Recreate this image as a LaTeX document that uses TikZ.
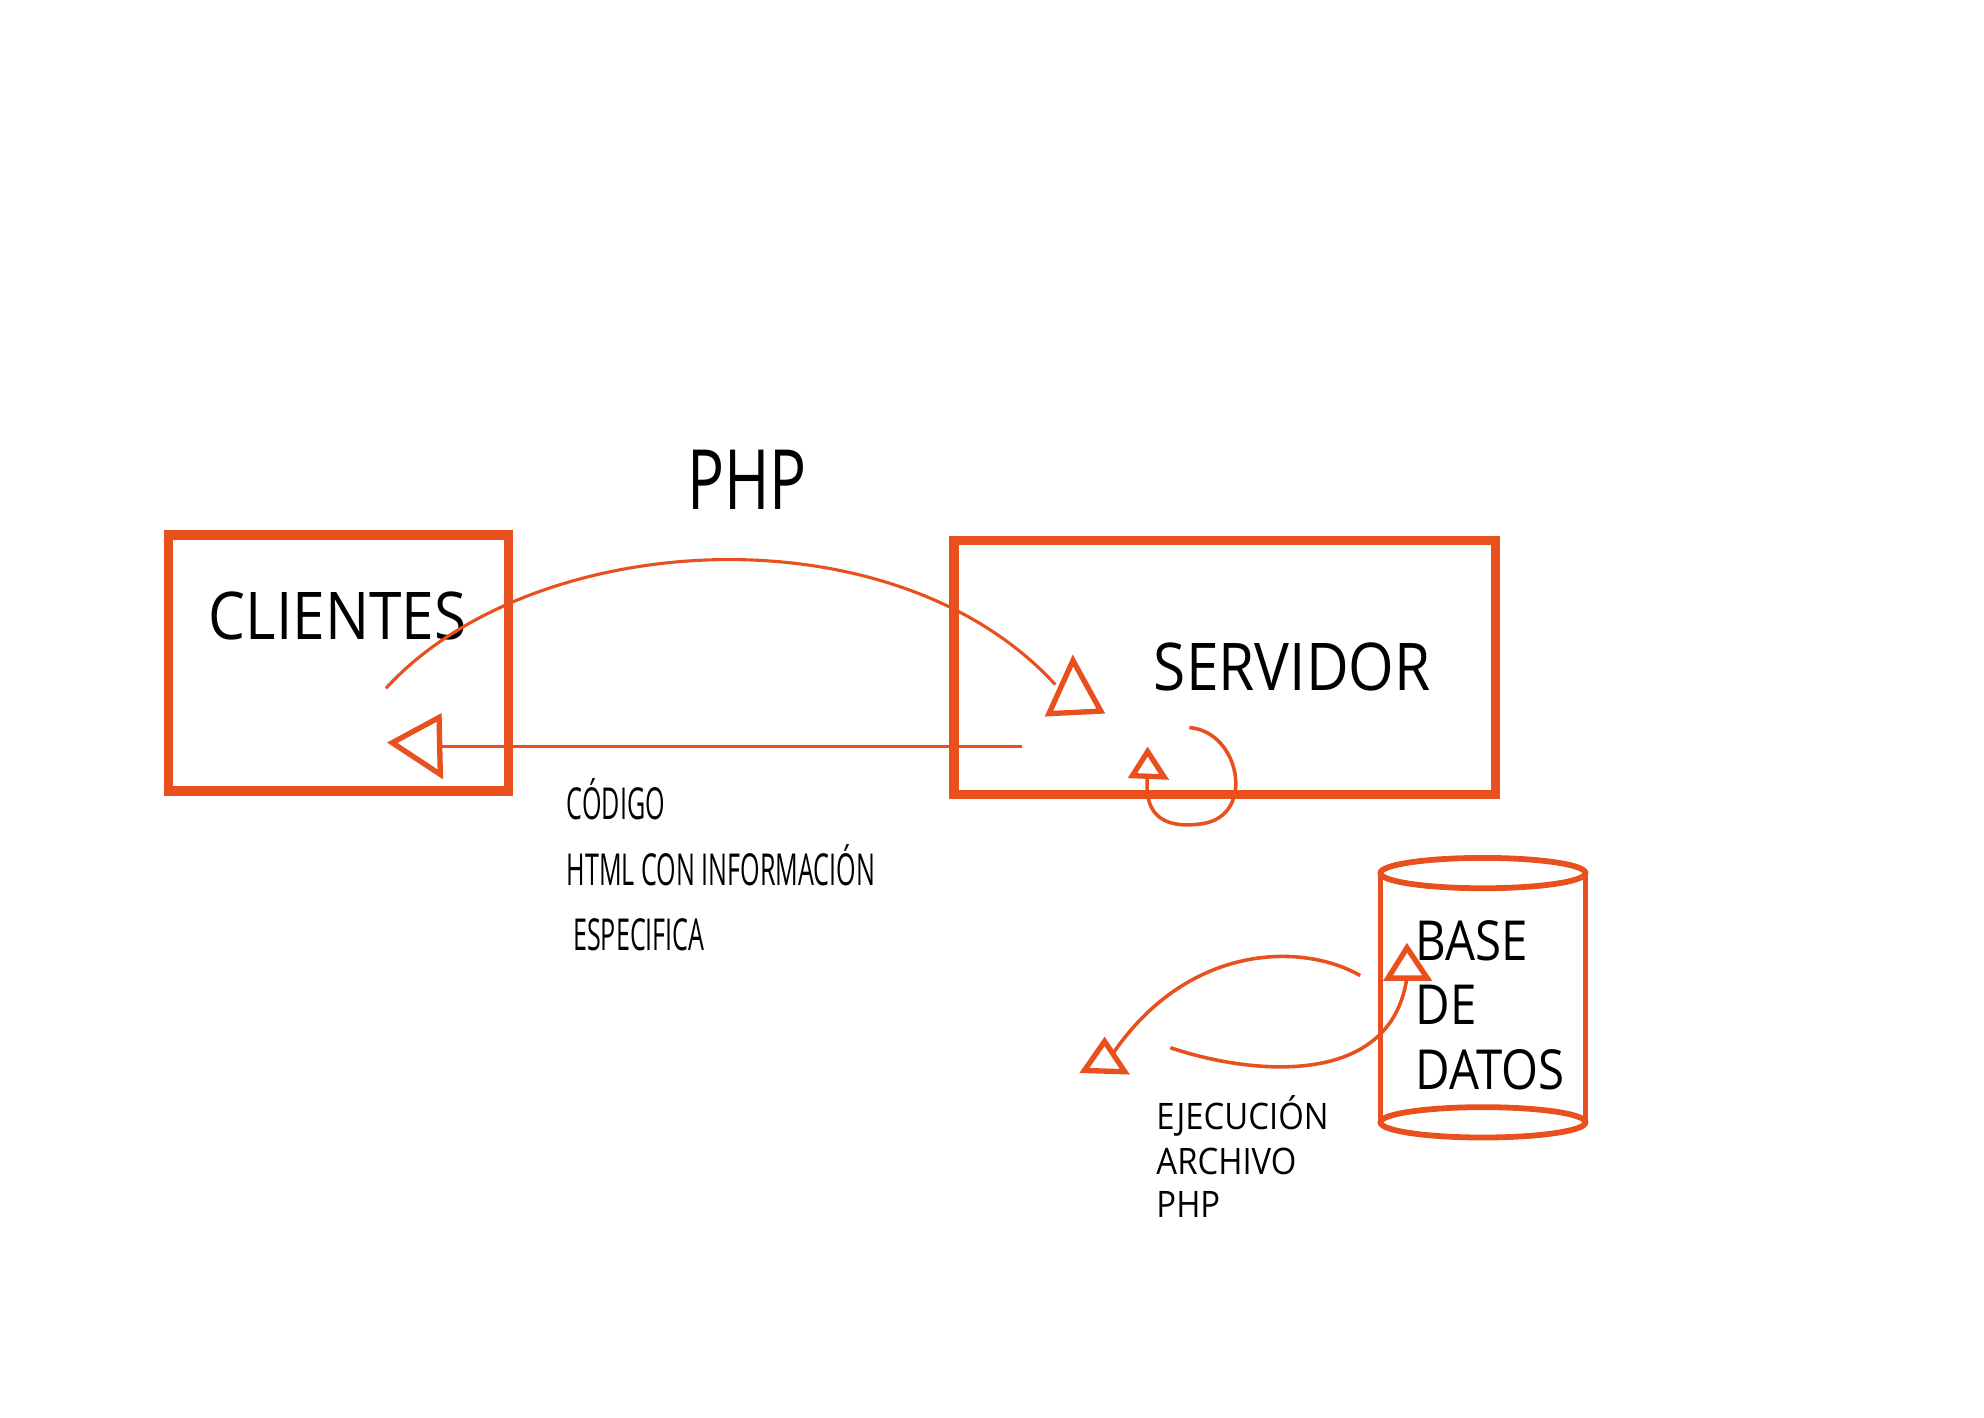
\documentclass[tikz,border=0pt]{standalone}
\usepackage{fontspec}
\setmainfont{Open Sans}
\newfontfamily\fA[FakeStretch=0.89]{Open Sans}
\newfontfamily\fP[FakeStretch=0.74]{Open Sans}
\newfontfamily\fC[FakeStretch=0.57]{Open Sans}
\newfontfamily\fB[FakeStretch=0.86]{Open Sans}
\newfontfamily\fE[FakeStretch=0.9]{Open Sans}
\definecolor{org}{RGB}{232,80,30}
\tikzset{
  box/.style={draw=org, line width=2.1pt, inner sep=0pt, outer sep=0pt},
  txt/.style={anchor=base west, inner sep=0pt, outer sep=0pt, text=black},
  conn/.style={draw=org, line width=0.8pt},
  head/.style={draw=org, line width=1.2pt, line join=miter, fill=white},
  cyl/.style={draw=org, line width=1.3pt}
}
\begin{document}
\begin{tikzpicture}[x=0.01cm, y=-0.01cm]
\useasboundingbox (0,0) rectangle (1568,1120);
% boxes
\node[box, minimum width=2.69cm, minimum height=2.02cm] (cli) at (267.5,524) {};
\node[box, minimum width=4.28cm, minimum height=2.01cm] (srv) at (968,527.5) {};
% texts
\node[txt, font=\fA\fontsize{14.8}{16}\selectfont] (tcli) at (165,505) {CLIENTES};
\node[txt, font=\fA\fontsize{14.8}{16}\selectfont] (tsrv) at (912,546) {SERVIDOR};
\node[txt, font=\fP\fontsize{18.7}{20}\selectfont] (tphp) at (543,403) {PHP};
\node[txt, font=\fC\fontsize{9.9}{11}\selectfont] (tc1) at (448,648) {CÓDIGO};
\node[txt, font=\fC\fontsize{9.9}{11}\selectfont] (tc2) at (448,700) {HTML CON INFORMACIÓN};
\node[txt, font=\fC\fontsize{9.9}{11}\selectfont] (tc3) at (453,751) {ESPECIFICA};
\node[txt, font=\fE\fontsize{8.2}{9}\selectfont] (te1) at (914,893) {EJECUCIÓN};
\node[txt, font=\fE\fontsize{8.2}{9}\selectfont] (te2) at (914,928) {ARCHIVO};
\node[txt, font=\fE\fontsize{8.2}{9}\selectfont] (te3) at (914,962) {PHP};
\node[txt, font=\fB\fontsize{12.4}{14}\selectfont] (tb1) at (1119,759) {BASE};
\node[txt, font=\fB\fontsize{12.4}{14}\selectfont] (tb2) at (1119,810) {DE};
\node[txt, font=\fB\fontsize{12.4}{14}\selectfont] (tb3) at (1119,861) {DATOS};
% database cylinder
\coordinate (dbtl) at (1091,690);
\coordinate (dbtr) at (1253,690);
\coordinate (dbbl) at (1091,887);
\coordinate (dbbr) at (1253,887);
\draw[cyl] (1172,690) ellipse [x radius=81, y radius=12];
\draw[cyl] (1172,887) ellipse [x radius=81, y radius=12];
\draw[cyl] (dbtl) -- (dbbl);
\draw[cyl] (dbtr) -- (dbbr);
% connector endpoints
\coordinate (a1s) at (305,544);
\coordinate (a1e) at (834,541);
\coordinate (a2s) at (808,590);
\coordinate (a2e) at (348,590);
\coordinate (a3s) at (940,575);
\coordinate (a3e) at (907,613);
\coordinate (a4s) at (1075,771);
\coordinate (a4e) at (880,832);
\coordinate (a5s) at (925,828);
\coordinate (a5e) at (1112,772);
% connectors
\draw[conn, line width=0.7pt] (a1s) .. controls (420,418) and (705,400) .. (a1e);
\draw[conn] (a2s) -- (a2e);
\draw[conn] (a3s) .. controls (980,578) and (993,645) .. (950,651) .. controls (915,656) and (904,640) .. (a3e);
\draw[conn] (a4s) .. controls (1030,745) and (940,745) .. (a4e);
\draw[conn] (a5s) .. controls (990,850) and (1100,860) .. (a5e);
% open triangle heads
\draw[head] (848,522) -- (829,564) -- (870,562) -- cycle;
\draw[head] (347,567) -- (310,587) -- (348,612) -- cycle;
\draw[head] (907,594) -- (895,613) -- (920,614) -- cycle;
\draw[head] (873,823) -- (857,846) -- (889,847) -- cycle;
\draw[head] (1112,749) -- (1097,773) -- (1128,773) -- cycle;
\end{tikzpicture}
\end{document}
